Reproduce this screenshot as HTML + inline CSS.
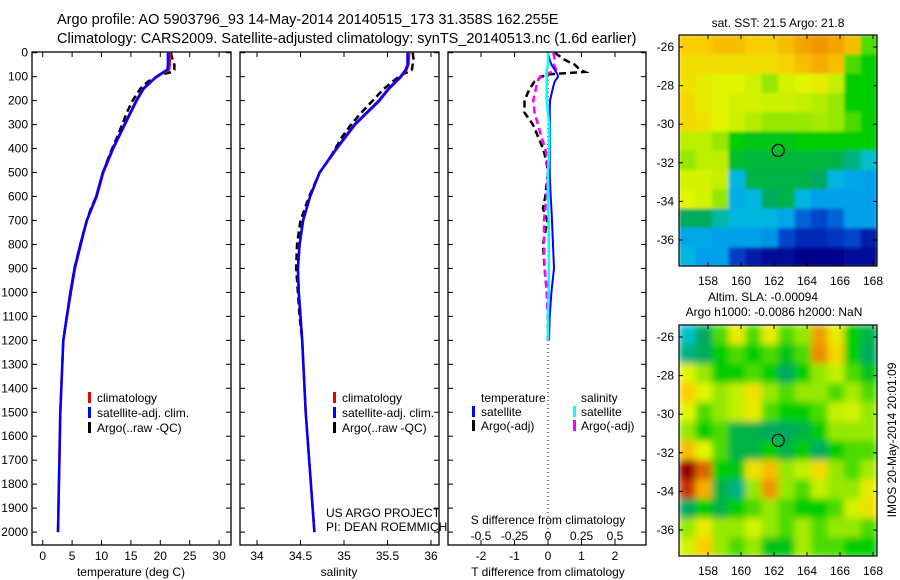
<!DOCTYPE html>
<html><head><meta charset="utf-8"><style>
body{margin:0;background:#fff;}
svg{display:block;font-family:"Liberation Sans",sans-serif;}
</style></head><body>
<svg id="s" width="900" height="580" xmlns="http://www.w3.org/2000/svg">
<defs>
<filter id="blur" x="0" y="0" width="1" height="1"><feGaussianBlur stdDeviation="3.5" edgeMode="duplicate"/></filter>
<filter id="blur2" x="0" y="0" width="1" height="1"><feGaussianBlur stdDeviation="1.5" edgeMode="duplicate"/></filter>
<clipPath id="clipTop"><rect x="679" y="35" width="198" height="231"/></clipPath>
<clipPath id="clipBot"><rect x="679" y="325" width="198" height="231"/></clipPath>
</defs>
<rect width="900" height="580" fill="#fff"/>
<text x="57" y="24" font-size="14.5">Argo profile: AO 5903796_93 14-May-2014 20140515_173 31.358S 162.255E</text>
<text x="57" y="43" font-size="14.5">Climatology: CARS2009. Satellite-adjusted climatology: synTS_20140513.nc (1.6d earlier)</text>
<g id="g"></g>
</svg>
<script>
// ---------- data ----------
const depthT=[0,50,70,100,150,200,300,400,500,600,700,800,900,1000,1200,1500,2000];
const tempClim=[21.6,21.6,21.5,19.4,17.2,16.0,14.0,12.0,10.3,9.2,7.5,6.5,5.5,4.8,3.5,3.0,2.6];
const tempSat=[21.3,21.3,21.2,19.3,17.1,15.9,13.9,11.9,10.2,9.1,7.5,6.4,5.4,4.7,3.5,3.0,2.6];
const depthArgo=[0,30,50,70,80,90,120,150,200,250,300,350,400,450,500,600,650,700,800,900,1000,1100,1200];
const tempArgo=[21.8,22.1,22.4,22.4,22.1,20.2,17.9,16.6,15.3,14.3,13.5,12.7,11.8,11.0,10.3,9.1,8.2,7.5,6.4,5.4,4.8,4.1,3.5];
const salClim=[35.75,35.74,35.72,35.66,35.52,35.41,35.13,34.92,34.72,34.61,34.53,34.49,34.47,34.48,34.52,34.56,34.66];
const salSat=[35.73,35.73,35.71,35.65,35.51,35.40,35.12,34.91,34.72,34.61,34.53,34.49,34.47,34.48,34.52,34.56,34.66];
const salArgo=[35.79,35.80,35.79,35.78,35.74,35.67,35.56,35.46,35.33,35.20,35.08,34.98,34.90,34.82,34.72,34.60,34.55,34.50,34.46,34.45,34.47,34.49,34.52];
const depthD=[0,30,50,70,80,90,100,120,150,200,250,300,350,400,450,500,600,650,700,800,900,1000,1100,1200];
const dTsat=[0,0.05,0.1,0.2,0.24,0.28,0.3,0.2,0.14,0.06,0.05,0.06,0.06,0.06,0.05,0.05,0.08,0.1,0.12,0.15,0.18,0.1,0.05,0.03];
const dTargo=[0.2,0.5,0.8,0.95,1.1,0.05,-0.2,-0.4,-0.55,-0.7,-0.7,-0.45,-0.3,-0.15,-0.05,0,-0.08,-0.15,-0.02,-0.15,-0.1,-0.03,0,0];
const dSsat=[0,0,0,-0.01,-0.01,-0.01,-0.01,-0.01,-0.01,-0.01,0,0.01,0.01,0.01,0.005,0,0,0,0.005,0.005,0.005,0.005,0,0];
const dSargo=[0.04,0.05,0.045,0.06,0.03,-0.03,-0.06,-0.08,-0.09,-0.11,-0.1,-0.075,-0.05,-0.02,-0.005,0,-0.01,-0.02,-0.03,-0.03,-0.025,-0.01,0,0];
const depthTicks=[0,100,200,300,400,500,600,700,800,900,1000,1100,1200,1300,1400,1500,1600,1700,1800,1900,2000];
const tTicks=[0,5,10,15,20,25,30];
const sTicks=[34,34.5,35,35.5,36];
const dTTicks=[-2,-1,0,1,2];
const dSTicks=[-0.5,-0.25,0,0.25,0.5];
const dSTickLabels=["-0.5","-0.25","0","0.25","0.5"];
const lonTicks=[158,160,162,164,166,168];
const latTicks=[-26,-28,-30,-32,-34,-36];
const sstGrid=[
[0.78,0.78,0.8,0.8,0.78,0.78,0.8,0.83,0.85,0.83,0.8,0.55],
[0.75,0.75,0.75,0.75,0.75,0.75,0.77,0.8,0.82,0.8,0.55,0.5],
[0.74,0.72,0.7,0.7,0.68,0.6,0.68,0.7,0.72,0.66,0.5,0.5],
[0.76,0.72,0.7,0.68,0.68,0.67,0.67,0.66,0.64,0.6,0.5,0.5],
[0.76,0.74,0.7,0.67,0.64,0.6,0.6,0.6,0.62,0.6,0.55,0.5],
[0.65,0.65,0.6,0.5,0.48,0.48,0.48,0.5,0.5,0.5,0.5,0.5],
[0.6,0.65,0.65,0.46,0.45,0.45,0.45,0.45,0.45,0.44,0.4,0.36],
[0.68,0.68,0.66,0.33,0.44,0.44,0.44,0.44,0.42,0.33,0.31,0.3],
[0.7,0.68,0.6,0.32,0.33,0.42,0.44,0.33,0.3,0.3,0.3,0.3],
[0.42,0.42,0.38,0.33,0.33,0.33,0.31,0.24,0.21,0.24,0.3,0.3],
[0.31,0.31,0.3,0.3,0.3,0.29,0.21,0.17,0.17,0.19,0.21,0.15],
[0.33,0.3,0.3,0.2,0.15,0.12,0.12,0.1,0.1,0.1,0.12,0.12]];
const slaGrid=[
[0.36,0.42,0.55,0.72,0.55,0.72,0.55,0.6,0.84,0.72,0.5,0.44],
[0.4,0.42,0.5,0.55,0.5,0.55,0.48,0.55,0.86,0.76,0.5,0.42],
[0.7,0.6,0.5,0.5,0.55,0.5,0.42,0.5,0.6,0.66,0.55,0.48],
[0.78,0.7,0.6,0.66,0.74,0.6,0.55,0.6,0.6,0.55,0.62,0.55],
[0.7,0.55,0.6,0.66,0.72,0.55,0.5,0.5,0.55,0.66,0.68,0.6],
[0.6,0.5,0.55,0.44,0.44,0.42,0.42,0.44,0.5,0.6,0.6,0.6],
[0.8,0.7,0.55,0.44,0.44,0.5,0.44,0.5,0.42,0.5,0.55,0.55],
[1.0,0.9,0.5,0.48,0.74,0.8,0.6,0.66,0.75,0.6,0.55,0.62],
[0.95,0.82,0.44,0.4,0.6,0.85,0.6,0.55,0.66,0.6,0.6,0.72],
[0.42,0.5,0.44,0.5,0.55,0.6,0.55,0.5,0.5,0.55,0.68,0.74],
[0.6,0.72,0.6,0.6,0.68,0.6,0.55,0.62,0.55,0.6,0.6,0.55],
[0.68,0.78,0.6,0.55,0.6,0.48,0.48,0.62,0.55,0.55,0.5,0.5]];
const argoLon=162.255, argoLat=-31.358;

// ---------- helpers ----------
const NS="http://www.w3.org/2000/svg";
const G=document.getElementById('g');
function mk(tag,attrs,parent){const e=document.createElementNS(NS,tag);for(const k in attrs)e.setAttribute(k,attrs[k]);(parent||G).appendChild(e);return e;}
function txt(x,y,s,size,anchor,name){const t=mk('text',{x:x,y:y,'font-size':size||12,'text-anchor':anchor||'start'});t.textContent=s;


return t;}
const yD=d=>52.7+d*0.2397;
const PB=545;
const xT=v=>42.7+v*5.88;
const xS=v=>257+(v-34)*87;
const xDT=v=>548+v*33.5;
const xDS=v=>548+v*134;

function line(xs,ys,fx,color,w,dash,name){
  const pts=xs.map((v,i)=>fx(v).toFixed(1)+','+yD(ys[i]).toFixed(1)).join(' ');
  const p=mk('polyline',{points:pts,fill:'none',stroke:color,'stroke-width':w});
  if(dash)p.setAttribute('stroke-dasharray',dash);
  
  
  return p;
}
function frame(x0,x1,name){
  const r=mk('rect',{x:x0,y:52,width:x1-x0,height:PB-52,fill:'none',stroke:'#000','stroke-width':1.3});
  
  
}
function xticks(vals,labels,fx,y,name){
  vals.forEach((v,i)=>{const x=fx(v);mk('line',{x1:x,x2:x,y1:PB,y2:PB-5,stroke:'#000'});mk('line',{x1:x,x2:x,y1:52,y2:57,stroke:'#000'});
  txt(x,y,labels[i],12,'middle',name);});
}
function ytickMarks(x0,x1){depthTicks.forEach(d=>{mk('line',{x1:x0,x2:x0+5,y1:yD(d),y2:yD(d),stroke:'#000'});mk('line',{x1:x1,x2:x1-5,y1:yD(d),y2:yD(d),stroke:'#000'});});}
function legendMark(x,y,color){const r=mk('rect',{x:x,y:y-10,width:3,height:11,fill:color});

}

// ---------- panel 1 ----------
frame(32,231,'temperature-panel');
ytickMarks(32,231);
depthTicks.forEach(d=>txt(28,yD(d)+4,String(d),12,'end','depth-tick-label'));
xticks(tTicks,tTicks.map(String),xT,560,'temperature-tick-label');
txt(131,576,'temperature (deg C)',12,'middle','temperature-axis-title');
line(tempArgo,depthArgo,xT,'#000',2.5,'7,4','argo-temperature-line');
line(tempClim,depthT,xT,'#e00',2.5,null,'climatology-temperature-line');
line(tempSat,depthT,xT,'#0000ff',2.5,null,'satellite-temperature-line');
legendMark(88,402,'#e00');txt(97,402,'climatology',12,'start','legend-climatology');
legendMark(88,417,'#00f');txt(97,417,'satellite-adj. clim.',12,'start','legend-satellite');
legendMark(88,432,'#000');txt(97,432,'Argo(..raw -QC)',12,'start','legend-argo');

// ---------- panel 2 ----------
frame(240,439,'salinity-panel');
ytickMarks(240,439);
xticks(sTicks,sTicks.map(String),xS,560,'salinity-tick-label');
txt(339,576,'salinity',12,'middle','salinity-axis-title');
line(salArgo,depthArgo,xS,'#000',2.5,'7,4','argo-salinity-line');
line(salClim,depthT,xS,'#e00',2.5,null,'climatology-salinity-line');
line(salSat,depthT,xS,'#0000ff',2.5,null,'satellite-salinity-line');
legendMark(333,402,'#e00');txt(342,402,'climatology',12,'start','legend-climatology');
legendMark(333,417,'#00f');txt(342,417,'satellite-adj. clim.',12,'start','legend-satellite');
legendMark(333,432,'#000');txt(342,432,'Argo(..raw -QC)',12,'start','legend-argo');
txt(326,517,'US ARGO PROJECT',12,'start','project-label');
txt(326,531,'PI: DEAN ROEMMICH',12,'start','pi-label');

// ---------- panel 3 ----------
frame(448,646,'difference-panel');
depthTicks.forEach(d=>{mk('line',{x1:448,x2:453,y1:yD(d),y2:yD(d),stroke:'#000'});mk('line',{x1:646,x2:641,y1:yD(d),y2:yD(d),stroke:'#000'});});
mk('line',{x1:548,x2:548,y1:52,y2:PB,stroke:'#000','stroke-dasharray':'1,3'});
xticks(dTTicks,dTTicks.map(String),xDT,560,'t-diff-tick-label');
dSTicks.forEach((v,i)=>txt(xDS(v),540,dSTickLabels[i],12,'middle','s-diff-tick-label'));
txt(548,524,'S difference from climatology',12,'middle','s-diff-axis-title');
txt(548,576,'T difference from climatology',12,'middle','t-diff-axis-title');
line(dTargo,depthD,xDT,'#000',2.5,'7,4','argo-t-diff-line');
line(dSargo,depthD,xDS,'#f0f',2.5,'7,4','argo-s-diff-line');
line(dTsat,depthD,xDT,'#00f',2,null,'satellite-t-diff-line');
line(dSsat,depthD,xDS,'#0ff',2.5,null,'satellite-s-diff-line');
txt(481,402,'temperature',12,'start','legend-temperature-header');
legendMark(472,416,'#00f');txt(481,416,'satellite',12,'start','legend-t-satellite');
legendMark(472,430,'#000');txt(481,430,'Argo(-adj)',12,'start','legend-t-argo');
txt(581,402,'salinity',12,'start','legend-salinity-header');
legendMark(573,416,'#0ff');txt(581,416,'satellite',12,'start','legend-s-satellite');
legendMark(573,430,'#f0f');txt(581,430,'Argo(-adj)',12,'start','legend-s-argo');

// ---------- maps ----------
const cmapStops=[[0,[0,0,120]],[0.1,[0,0,140]],[0.2,[0,60,200]],[0.3,[0,160,235]],[0.35,[0,195,215]],[0.42,[0,170,95]],[0.5,[0,205,0]],[0.6,[150,232,0]],[0.7,[225,245,0]],[0.78,[250,205,0]],[0.85,[240,150,0]],[0.95,[200,50,0]],[1,[150,0,0]]];
function cmap(v){v=Math.max(0,Math.min(1,v));
  for(let i=1;i<cmapStops.length;i++){const [a,ca]=cmapStops[i-1],[b,cb]=cmapStops[i];
    if(v<=b){const t=(v-a)/(b-a);return 'rgb('+ca.map((c,k)=>Math.round(c+(cb[k]-c)*t)).join(',')+')';}}
  return 'rgb(150,0,0)';}
function map(grid,top,name,clip,filt){
  const x0=679,x1=877,y1=top+231;
  const xL=l=>708+(l-158)*16.5, yL=l=>top+12+(-26-l)*19.3;
  const lon0=156.24, lat0=-25.38;
  const outer=mk('g',{'clip-path':'url(#'+clip+')'});
  const gEl=mk('g',{filter:'url(#'+filt+')'},outer);
  
  
  grid.forEach((row,r)=>row.forEach((v,c)=>{
    const xa=xL(lon0+c), xb=xL(lon0+c+1), ya=yL(lat0-r), yb=yL(lat0-r-1);
    const cell=mk('rect',{x:xa.toFixed(1),y:ya.toFixed(1),width:(xb-xa+0.6).toFixed(1),height:(yb-ya+0.6).toFixed(1),fill:cmap(v)},gEl);
    
    
  }));
  const fr=mk('rect',{x:x0,y:top,width:x1-x0,height:y1-top,fill:'none',stroke:'#000','stroke-width':1.2});
  
  
  lonTicks.forEach(l=>{const x=xL(l);mk('line',{x1:x,x2:x,y1:y1,y2:y1-4,stroke:'#000'});mk('line',{x1:x,x2:x,y1:top,y2:top+4,stroke:'#000'});txt(x,y1+19,String(l),12,'middle','map-lon-tick');});
  latTicks.forEach(l=>{const y=yL(l);mk('line',{x1:x0,x2:x0+4,y1:y,y2:y,stroke:'#000'});mk('line',{x1:x1,x2:x1-4,y1:y,y2:y,stroke:'#000'});txt(x0-5,y+4,String(l),12,'end','map-lat-tick');});
  const c=mk('circle',{cx:xL(argoLon),cy:yL(argoLat),r:6,fill:'none',stroke:'#000','stroke-width':1.2});
  
  
}
map(sstGrid,35,'sst-map','clipTop','blur2');
map(slaGrid,325,'sla-map','clipBot','blur');
txt(778,27,'sat. SST: 21.5 Argo: 21.8',12,'middle','sst-map-title');
txt(763,301,'Altim. SLA: -0.00094',12,'middle','sla-map-title');
txt(774,316,'Argo h1000: -0.0086 h2000: NaN',12,'middle','sla-map-subtitle');
const v=txt(0,0,'IMOS 20-May-2014 20:01:09',12,'middle','timestamp-label');
v.setAttribute('transform','translate(896,440) rotate(-90)');
</script>
</body></html>
